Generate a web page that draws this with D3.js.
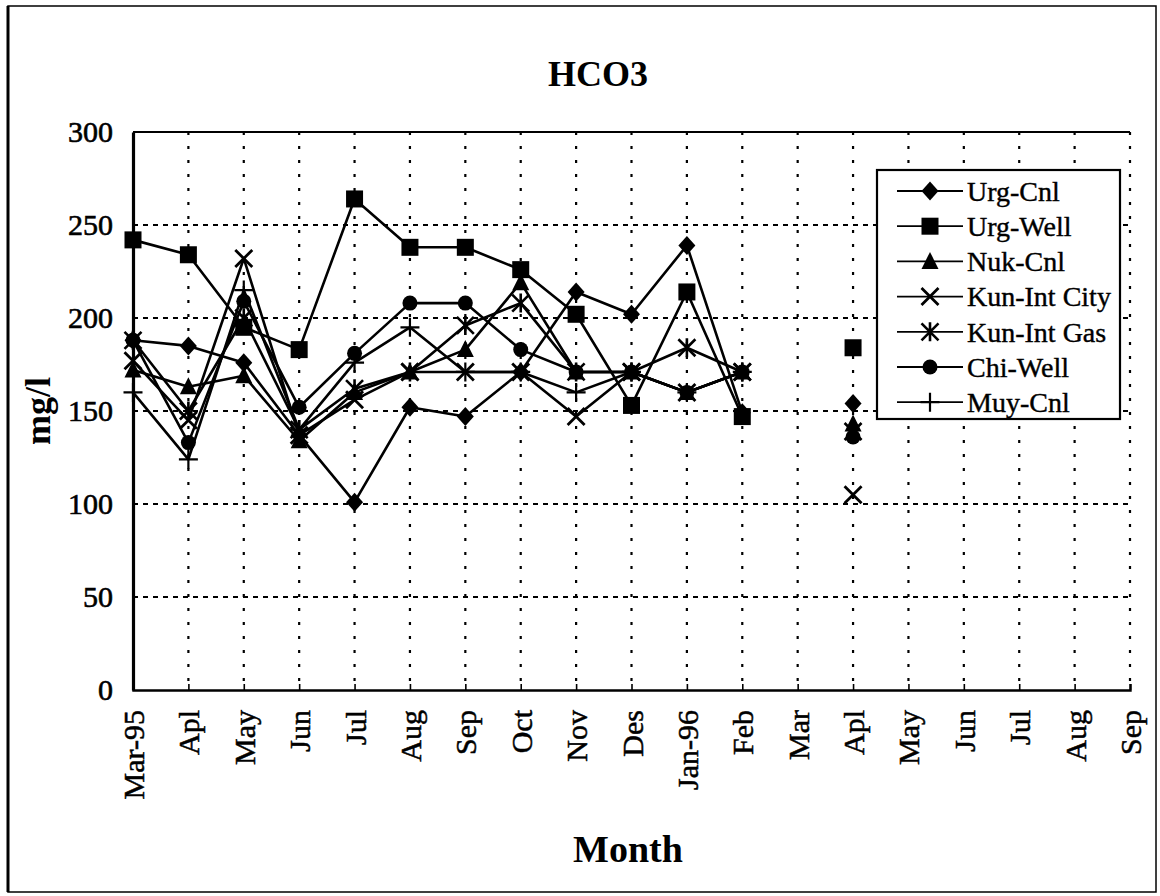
<!DOCTYPE html>
<html><head><meta charset="utf-8">
<script src="https://cdn.jsdelivr.net/npm/d3@7"></script>
<style>body{margin:0;background:#fff}svg{display:block}</style>
</head><body>
<svg id="chart" width="1160" height="896"></svg>
<script>
const categories = ["Mar-95","Apl","May","Jun","Jul","Aug","Sep","Oct","Nov","Des","Jan-96","Feb","Mar","Apl ","May ","Jun ","Jul ","Aug ","Sep "];
const categoryLabels = ["Mar-95","Apl","May","Jun","Jul","Aug","Sep","Oct","Nov","Des","Jan-96","Feb","Mar","Apl","May","Jun","Jul","Aug","Sep"];
const yTicks = [0,50,100,150,200,250,300];
const seriesNames = ["Urg-Cnl","Urg-Well","Nuk-Cnl","Kun-Int City","Kun-Int Gas","Chi-Well","Muy-Cnl"];
const urgCnl    = [188,185,176,137,101,152,147,171,214,202,239,149,null,154];
const urgWell   = [242,234,195,183,264,238,238,226,202,153,214,147,null,184];
const nukCnl    = [172,163,169,134,160,171,183,219,171,171,160,171,null,143];
const kunIntCity= [177,145,232,137,156,171,171,171,147,171,160,171,null,105];
const kunIntGas = [188,150,200,140,162,171,196,208,171,171,184,171,null,139];
const chiWell   = [188,133,209,152,181,208,208,183,171,171,160,171,null,136];
const muyCnl    = [160,124,215,140,176,195,171,171,160,171,160,171,null,null];
const seriesValues = [urgCnl,urgWell,nukCnl,kunIntCity,kunIntGas,chiWell,muyCnl];
const markerTypes = ["diamond","square","triangle","x","asterisk","circle","plus"];

const FONT = "'Liberation Serif','Times New Roman',serif";
const svg = d3.select("#chart");
const L = 133, R = 1130, T = 132, B = 690;

// outer frame
svg.append("rect").attr("x",8).attr("y",6).attr("width",1148).attr("height",886)
  .attr("fill","none").attr("stroke","#000").attr("stroke-width",1.5);
svg.append("line").attr("x1",8).attr("x2",8).attr("y1",6).attr("y2",892).attr("stroke","#000").attr("stroke-width",3);

const x = d3.scalePoint().domain(categories).range([L,R]);
const y = d3.scaleLinear().domain([0,300]).range([B,T]);

// grid
const g = svg.append("g");
g.selectAll(".hg").data(yTicks.filter(v=>v>0 && v<300)).join("line")
  .attr("x1",L).attr("x2",R).attr("y1",d=>y(d)).attr("y2",d=>y(d))
  .attr("stroke","#000").attr("stroke-width",1.8).attr("stroke-dasharray","5 5");
g.selectAll(".vg").data(categories.slice(1)).join("line")
  .attr("x1",d=>x(d)).attr("x2",d=>x(d)).attr("y1",T).attr("y2",B)
  .attr("stroke","#000").attr("stroke-width",2.2).attr("stroke-dasharray","3 11");
// top border
g.append("line").attr("x1",L).attr("x2",R).attr("y1",T).attr("y2",T).attr("stroke","#000").attr("stroke-width",2);

// axes
const yAxis = svg.append("g").attr("transform",`translate(${L},0)`)
  .call(d3.axisLeft(y).tickValues(yTicks).tickSize(0).tickPadding(20));
yAxis.select(".domain").attr("stroke-width",3.2);
yAxis.selectAll("text").attr("font-family",FONT).attr("font-size",30).attr("fill","#000")
  .attr("stroke","#000").attr("stroke-width",0.6);

const xAxis = svg.append("g").attr("transform",`translate(0,${B})`)
  .call(d3.axisBottom(x).tickSize(-6).tickFormat((d,i)=>categoryLabels[i]));
xAxis.select(".domain").attr("stroke-width",2.4);
xAxis.selectAll(".tick line").attr("stroke-width",1.6);
xAxis.selectAll("text").attr("font-family",FONT).attr("font-size",30).attr("fill","#000")
  .attr("stroke","#000").attr("stroke-width",0.5)
  .attr("transform","rotate(-90)").attr("text-anchor","end").attr("x",-20).attr("y",0).attr("dy","0.35em");

// titles
svg.append("text").attr("x",598).attr("y",86).attr("text-anchor","middle")
  .attr("font-family",FONT).attr("font-weight","bold").attr("font-size",36).text("HCO3");
svg.append("text").attr("x",628).attr("y",862).attr("text-anchor","middle")
  .attr("font-family",FONT).attr("font-weight","bold").attr("font-size",38).text("Month");
svg.append("text").attr("transform",`translate(50,${(T+B)/2}) rotate(-90)`).attr("text-anchor","middle")
  .attr("font-family",FONT).attr("font-weight","bold").attr("font-size",36).text("mg/l");

// markers
function drawMarker(sel, type, cx, cy){
  const s = 8.5;
  if(type==="diamond") sel.append("path").attr("d",`M${cx},${cy-s-1}L${cx+s},${cy}L${cx},${cy+s+1}L${cx-s},${cy}Z`).attr("fill","#000");
  else if(type==="square") sel.append("rect").attr("x",cx-s).attr("y",cy-s).attr("width",2*s).attr("height",2*s).attr("fill","#000");
  else if(type==="triangle") sel.append("path").attr("d",`M${cx},${cy-s-1}L${cx+s},${cy+s-1}L${cx-s},${cy+s-1}Z`).attr("fill","#000");
  else if(type==="circle") sel.append("circle").attr("cx",cx).attr("cy",cy).attr("r",7.5).attr("fill","#000");
  else if(type==="x") sel.append("path").attr("d",`M${cx-s},${cy-s}L${cx+s},${cy+s}M${cx-s},${cy+s}L${cx+s},${cy-s}`).attr("stroke","#000").attr("stroke-width",2.8).attr("fill","none");
  else if(type==="asterisk") sel.append("path").attr("d",`M${cx-s},${cy-s}L${cx+s},${cy+s}M${cx-s},${cy+s}L${cx+s},${cy-s}M${cx},${cy-s-1}L${cx},${cy+s+1}`).attr("stroke","#000").attr("stroke-width",2.6).attr("fill","none");
  else if(type==="plus") sel.append("path").attr("d",`M${cx-s-1},${cy}L${cx+s+1},${cy}M${cx},${cy-s-1}L${cx},${cy+s+1}`).attr("stroke","#000").attr("stroke-width",2.2).attr("fill","none");
}

const line = d3.line().defined(d=>d.v!=null).x(d=>x(d.c)).y(d=>y(d.v));
seriesValues.forEach((vals,si)=>{
  const pts = vals.map((v,i)=>({c:categories[i],v:v}));
  const sg = svg.append("g");
  sg.append("path").datum(pts).attr("d",line).attr("fill","none").attr("stroke","#000")
    .attr("stroke-width", 2.6).attr("stroke-linejoin","round");
  pts.filter(p=>p.v!=null).forEach(p=>drawMarker(sg, markerTypes[si], x(p.c), y(p.v)));
});

// legend
const lg = svg.append("g");
const LX = 877, LY = 170, LW = 243, LH = 249;
lg.append("rect").attr("x",LX).attr("y",LY).attr("width",LW).attr("height",LH)
  .attr("fill","#fff").attr("stroke","#000").attr("stroke-width",2.2);
seriesNames.forEach((n,i)=>{
  const cy = LY + 21 + i*35.2;
  lg.append("line").attr("x1",LX+20).attr("x2",LX+86).attr("y1",cy).attr("y2",cy).attr("stroke","#000").attr("stroke-width",1.8);
  drawMarker(lg, markerTypes[i], LX+53, cy);
  lg.append("text").attr("x",LX+90).attr("y",cy).attr("dy","0.35em")
    .attr("font-family",FONT).attr("font-size",28).attr("stroke","#000").attr("stroke-width",0.4).text(n);
});
</script>
</body></html>
